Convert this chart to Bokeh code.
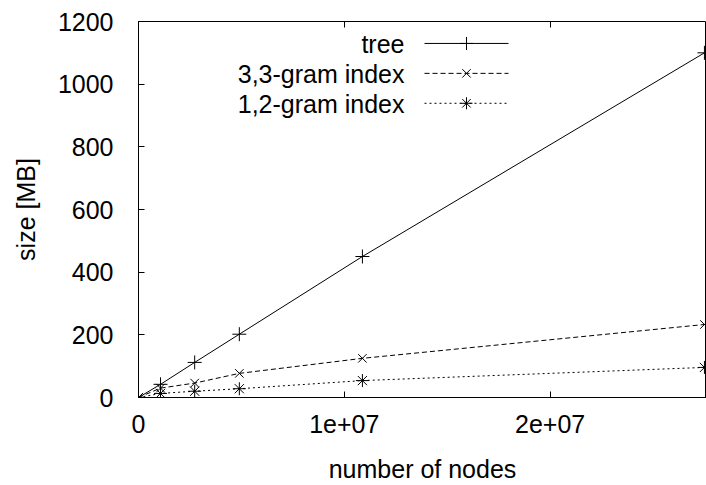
from bokeh.plotting import figure
from bokeh.models import Range1d, FixedTicker, LinearAxis
from bokeh.core.properties import value
from bokeh.embed import file_html
from bokeh.resources import INLINE

# ---- data ----
nodes = [0, 1.07e6, 2.73e6, 4.9e6, 1.088e7, 2.75e7]
tree = [0, 42, 112, 202, 450, 1100]
gram33 = [0, 30, 46, 77, 125, 233]
gram12 = [0, 13, 20, 28, 54, 96]
series_names = ["tree", "3,3-gram index", "1,2-gram index"]
x_ticks = [0, 1e7, 2e7]
x_tick_labels = ["0", "1e+07", "2e+07"]
y_ticks = [0, 200, 400, 600, 800, 1000, 1200]
x_title = "number of nodes"
y_title = "size [MB]"

FONT = "Liberation Sans"
FS = "25px"

W, H = 706, 485
BL, BR, BT, BB = 138, 0, 21, 87
XMAX, YMAX = 2.76e7, 1200

p = figure(width=W, height=H, x_range=Range1d(0, XMAX), y_range=Range1d(0, YMAX),
           output_backend="svg", toolbar_location=None,
           min_border_left=BL, min_border_right=BR, min_border_top=BT, min_border_bottom=BB)
p.grid.visible = False
p.outline_line_color = "black"
p.outline_line_width = 1
p.background_fill_color = "white"
p.border_fill_color = "white"

for ax in (p.xaxis[0], p.yaxis[0]):
    ax.major_tick_in = 6
    ax.major_tick_out = 0
    ax.minor_tick_line_color = None
    ax.axis_line_color = "black"
    ax.major_tick_line_color = "black"
    ax.major_label_text_font = FONT
    ax.major_label_text_font_size = FS
    ax.major_label_text_color = "black"
    ax.axis_label_text_font = FONT
    ax.axis_label_text_font_size = FS
    ax.axis_label_text_font_style = "normal"
    ax.axis_label_text_color = "black"

p.xaxis.ticker = FixedTicker(ticks=x_ticks)
p.xaxis.major_label_overrides = {t: l for t, l in zip(x_ticks, x_tick_labels)}
p.yaxis.ticker = FixedTicker(ticks=y_ticks)
p.xaxis.axis_label = x_title
p.yaxis.axis_label = y_title
p.xaxis.major_label_standoff = 17
p.yaxis.major_label_standoff = 25
p.xaxis.axis_label_standoff = 19
p.yaxis.axis_label_standoff = 15

top = LinearAxis(ticker=FixedTicker(ticks=x_ticks), major_tick_in=6, major_tick_out=0,
                 minor_tick_line_color=None, axis_line_color=None,
                 major_label_overrides={t: "" for t in x_ticks}, major_label_standoff=0)
p.add_layout(top, "above")

# ---- series ----
p.line(nodes, tree, line_color="black", line_width=1)
p.scatter(nodes, tree, marker="cross", size=14, line_color="black", line_width=1)
p.line(nodes, gram33, line_color="black", line_width=1, line_dash="5 3")
p.scatter(nodes, gram33, marker="x", size=12, line_color="black", line_width=1)
p.line(nodes, gram12, line_color="black", line_width=1, line_dash="2 3")
p.scatter(nodes, gram12, marker="asterisk", size=13, line_color="black", line_width=1)

# ---- pixel -> data helpers (for legend placement) ----
FW = W - BL - BR
FH = H - BT - BB
def sx(px):  # canvas-pixel x -> data x
    return (px - BL) / FW * XMAX
def sy(py):  # canvas-pixel y -> data y
    return (BT + FH - py) / FH * YMAX

# ---- gnuplot-style legend (label left, sample right) ----
rows_py = [43, 73, 103]
dashes = ["solid", "5 3", "2 3"]
markers = ["cross", "x", "asterisk"]
msizes = [13, 12, 12]
for name, py, dash, mk, ms in zip(series_names, rows_py, dashes, markers, msizes):
    p.text([sx(404)], [sy(py + 1)], text=[name], text_align="right", text_baseline="middle",
           text_font=value(FONT), text_font_size=FS, text_color="black")
    p.line([sx(424), sx(508)], [sy(py), sy(py)], line_color="black", line_width=1, line_dash=dash)
    p.scatter([sx(466)], [sy(py)], marker=mk, size=ms, line_color="black", line_width=1)

open("out.html", "w").write(file_html(p, INLINE))
